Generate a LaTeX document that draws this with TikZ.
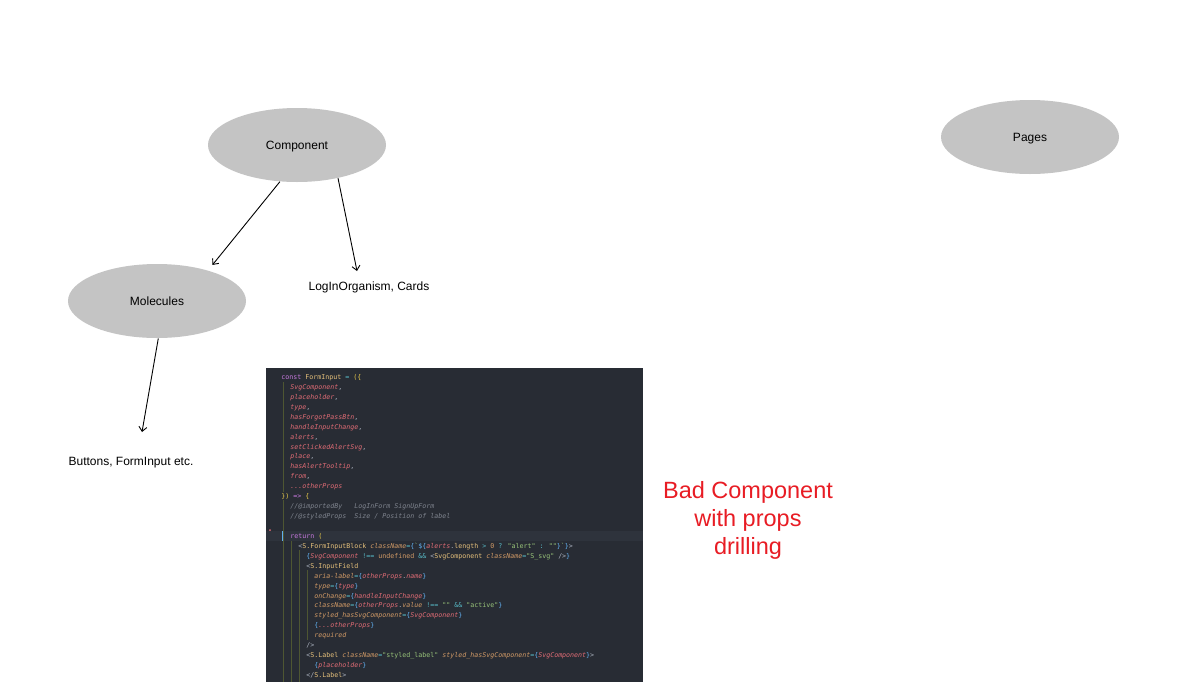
\documentclass[tikz,border=0pt]{standalone}
\usepackage{fontspec}
\setmainfont{Liberation Sans}
\newfontfamily\codefont{DejaVu Sans Mono}
\usetikzlibrary{shapes.geometric,arrows.meta,positioning}

\definecolor{nodegray}{HTML}{C4C4C4}
\definecolor{badred}{RGB}{232,28,36}
\definecolor{codebg}{HTML}{282C34}
\definecolor{codeline}{HTML}{2E333C}
\definecolor{guide}{HTML}{4E5632}
\definecolor{kwcol}{HTML}{C678DD}
\definecolor{tagcol}{HTML}{E5C07B}
\definecolor{parcol}{HTML}{E06C75}
\definecolor{attrcol}{HTML}{D19A66}
\definecolor{strcol}{HTML}{98C379}
\definecolor{cmtcol}{HTML}{7F848E}
\definecolor{opcol}{HTML}{56B6C2}
\definecolor{brcol}{HTML}{61AFEF}
\definecolor{yelcol}{HTML}{E6C84A}
\definecolor{plaincol}{HTML}{ABB2BF}

% code colouring
\newcommand{\cKw}[1]{\textcolor{kwcol}{#1}}
\newcommand{\cTag}[1]{\textcolor{tagcol}{#1}}
\newcommand{\cPar}[1]{{\itshape\color{parcol}#1}}
\newcommand{\cAttr}[1]{{\itshape\color{attrcol}#1}}
\newcommand{\cNum}[1]{\textcolor{attrcol}{#1}}
\newcommand{\cStr}[1]{\textcolor{strcol}{#1}}
\newcommand{\cCmt}[1]{{\itshape\color{cmtcol}#1}}
\newcommand{\cOp}[1]{\textcolor{opcol}{#1}}
\newcommand{\cBr}[1]{\textcolor{brcol}{#1}}
\newcommand{\cYel}[1]{\textcolor{yelcol}{#1}}
\newcommand{\cPun}[1]{\textcolor{plaincol}{#1}}

\begin{document}
\begin{tikzpicture}[x=1pt,y=-1pt,>={Straight Barb[length=4.5pt,width=8pt]},thick,
      main node/.style={ellipse,fill=nodegray,minimum width=178pt,minimum height=74pt,inner sep=0pt,text height=9pt,text depth=1pt,font=\fontsize{12}{14}\selectfont},
      label text/.style={inner sep=0pt,text height=9pt,text depth=1pt,font=\fontsize{12}{14}\selectfont},
      code/.style={anchor=base west,inner sep=0pt,text=plaincol,font=\codefont\fontsize{6.64}{8}\selectfont},
      link/.style={->,line width=0.9pt}]
      \useasboundingbox (0,0) rectangle (1192,694);
      \fill[white] (0,0) rectangle (1192,694);

      \node[main node] (comp) at (297,145) {Component};
      \node[main node] (pages) at (1030,137) {Pages};
      \node[main node] (mol) at (157,301) {Molecules};
      \node[label text] (login) at (369,286) {LogInOrganism, Cards};
      \node[label text] (btn) at (131,461) {Buttons, FormInput etc.};
      \coordinate (logTip) at (357,271);
      \coordinate (btnTip) at (142,432);

      \draw[link,shorten >=7pt] (comp.-115) -- (mol.31);
      \draw[link] (comp.-39) -- (logTip);
      \draw[link] (mol.-88) -- (btnTip);

      % code screenshot
      \fill[codebg] (266,368) rectangle (643,682);
      \fill[codeline] (266,531) rectangle (643,541);
      \fill[brcol] (281.5,531) rectangle (283,541);
      \fill[parcol] (270,530) circle (1pt);
      \draw[guide,line width=0.8pt] (283,382) -- (283,492);
      \draw[guide,line width=0.8pt] (283,500) -- (283,682);
      \draw[guide,line width=0.8pt] (291,541) -- (291,682);
      \draw[guide,line width=0.8pt] (299,550) -- (299,682);
      \draw[guide,line width=0.8pt] (307,570) -- (307,640);

      \node[code] (c1) at (281,379.5) {\cKw{const} \cTag{FormInput} \cOp{=} \cYel{(\{}};
      \node[code] (c2) at (290,389.4) {\cPar{SvgComponent},};
      \node[code] (c3) at (290,399.3) {\cPar{placeholder},};
      \node[code] (c4) at (290,409.2) {\cPar{type},};
      \node[code] (c5) at (290,419.2) {\cPar{hasForgotPassBtn},};
      \node[code] (c6) at (290,429.1) {\cPar{handleInputChange},};
      \node[code] (c7) at (290,439.1) {\cPar{alerts},};
      \node[code] (c8) at (290,449.0) {\cPar{setClickedAlertSvg},};
      \node[code] (c9) at (290,458.9) {\cPar{place},};
      \node[code] (c10) at (290,468.9) {\cPar{hasAlertTooltip},};
      \node[code] (c11) at (290,478.8) {\cPar{from},};
      \node[code] (c12) at (290,488.7) {\cPar{...otherProps}};
      \node[code] (c13) at (281,498.7) {\cYel{\})} \cKw{=>} \cYel{\{}};
      \node[code] (c14) at (290,508.6) {\cCmt{//@importedBy~~~LogInForm SignUpForm}};
      \node[code] (c15) at (290,518.5) {\cCmt{//@styledProps~~Size / Position of label}};
      \node[code] (c17) at (290,538.4) {\cKw{return} \cYel{(}};
      \node[code] (c18) at (298,548.3) {\cPun{<}\cTag{S.FormInputBlock} \cAttr{className}\cOp{=}\cBr{\{}\cStr{`}\cBr{\$\{}\cPar{alerts}.\cTag{length} \cOp{>} \cNum{0} \cOp{?} \cStr{"alert"} \cOp{:} \cStr{""}\cBr{\}}\cStr{`}\cBr{\}}\cPun{>}};
      \node[code] (c19) at (306,558.2) {\cBr{\{}\cPar{SvgComponent} \cOp{!==} \cNum{undefined} \cOp{\&\&} \cPun{<}\cTag{SvgComponent} \cAttr{className}\cOp{=}\cStr{"S\_svg"} \cPun{/>}\cBr{\}}};
      \node[code] (c20) at (306,568.2) {\cPun{<}\cTag{S.InputField}};
      \node[code] (c21) at (314,578.1) {\cAttr{aria-label}\cOp{=}\cBr{\{}\cPar{otherProps}.\cPar{name}\cBr{\}}};
      \node[code] (c22) at (314,588.0) {\cAttr{type}\cOp{=}\cBr{\{}\cPar{type}\cBr{\}}};
      \node[code] (c23) at (314,598.0) {\cAttr{onChange}\cOp{=}\cBr{\{}\cPar{handleInputChange}\cBr{\}}};
      \node[code] (c24) at (314,607.9) {\cAttr{className}\cOp{=}\cBr{\{}\cPar{otherProps}.\cAttr{value} \cOp{!==} \cStr{""} \cOp{\&\&} \cStr{"active"}\cBr{\}}};
      \node[code] (c25) at (314,617.8) {\cAttr{styled\_hasSvgComponent}\cOp{=}\cBr{\{}\cPar{SvgComponent}\cBr{\}}};
      \node[code] (c26) at (314,627.8) {\cBr{\{}\cPar{...otherProps}\cBr{\}}};
      \node[code] (c27) at (314,637.7) {\cAttr{required}};
      \node[code] (c28) at (306,647.6) {\cPun{/>}};
      \node[code] (c29) at (306,657.6) {\cPun{<}\cTag{S.Label} \cAttr{className}\cOp{=}\cStr{"styled\_label"} \cAttr{styled\_hasSvgComponent}\cOp{=}\cBr{\{}\cPar{SvgComponent}\cBr{\}}\cPun{>}};
      \node[code] (c30) at (314,667.5) {\cBr{\{}\cPar{placeholder}\cBr{\}}};
      \node[code] (c31) at (306,677.4) {\cPun{</}\cTag{S.Label}\cPun{>}};

      \node[text=badred,align=center,inner sep=0pt,font=\fontsize{23.5}{28}\selectfont] (bad) at (748,520) {Bad Component\\with props\\drilling};
    \end{tikzpicture}
\end{document}
